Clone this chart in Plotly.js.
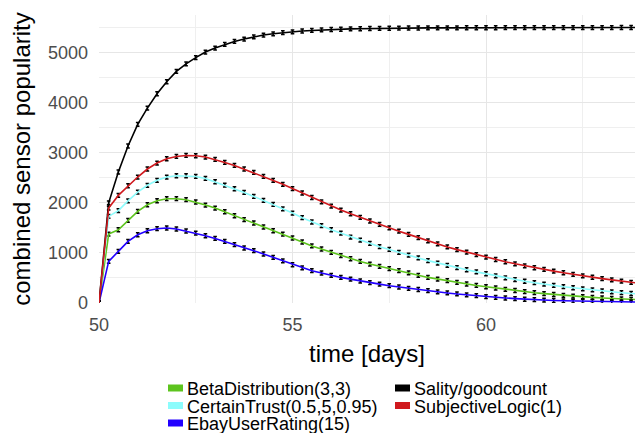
<!DOCTYPE html>
<html>
<head>
<meta charset="utf-8">
<script src="https://cdn.plot.ly/plotly-3.0.1.min.js"></script>
<style>
  html, body { margin: 0; padding: 0; background: #fff; }
  #chart { width: 635px; height: 433px; }
</style>
</head>
<body>
<div id="chart"></div>
<script>
// ---- data ----
const timeDays = [50, 50.25, 50.5, 50.75, 51, 51.25, 51.5, 51.75, 52, 52.25, 52.5, 52.75, 53, 53.25, 53.5, 53.75,
  54, 54.25, 54.5, 54.75, 55, 55.25, 55.5, 55.75, 56, 56.25, 56.5, 56.75, 57, 57.25, 57.5, 57.75,
  58, 58.25, 58.5, 58.75, 59, 59.25, 59.5, 59.75, 60, 60.25, 60.5, 60.75, 61, 61.25, 61.5, 61.75,
  62, 62.25, 62.5, 62.75, 63, 63.25, 63.5, 63.75, 64];

const betaDistribution = [0, 1377, 1463, 1649, 1829, 1962, 2042, 2082, 2082, 2062, 2016, 1956, 1896, 1822, 1742, 1663,
  1597, 1517, 1443, 1377, 1298, 1218, 1140, 1078, 1010, 944, 884, 830, 778, 731, 685, 645,
  600, 553, 511, 477, 445, 411, 379, 351, 325, 299, 272, 250, 227, 206, 187, 170,
  153, 139, 125, 112, 100, 91, 81, 73, 66];

const certainTrust = [0, 1729, 1845, 2040, 2212, 2350, 2450, 2515, 2541, 2541, 2527, 2487, 2421, 2355, 2281, 2208,
  2128, 2048, 1968, 1880, 1796, 1703, 1617, 1543, 1463, 1397, 1317, 1257, 1190, 1124, 1070, 1010,
  955, 900, 846, 798, 752, 708, 664, 622, 584, 542, 502, 466, 434, 405, 375, 350,
  326, 304, 282, 262, 243, 224, 206, 190, 175];

const ebayUserRating = [0, 830, 1030, 1230, 1363, 1443, 1483, 1497, 1477, 1437, 1397, 1343, 1289, 1230, 1164, 1098,
  1044, 978, 912, 840, 764, 700, 645, 599, 551, 511, 476, 439, 405, 377, 345, 319,
  293, 270, 246, 222, 201, 181, 162, 146, 128, 113, 100, 87, 75, 66, 57, 50,
  44, 39, 35, 31, 28, 25, 23, 21, 19];

const salityGoodcount = [0, 2000, 2615, 3134, 3565, 3892, 4178, 4417, 4623, 4776, 4900, 5010, 5090, 5162, 5222, 5269,
  5315, 5349, 5375, 5398, 5415, 5430, 5442, 5452, 5460, 5466, 5472, 5476, 5480, 5483, 5486, 5488,
  5490, 5491, 5492, 5493, 5494, 5494, 5495, 5495, 5496, 5496, 5497, 5497, 5497, 5498, 5498, 5498,
  5498, 5499, 5499, 5499, 5499, 5499, 5500, 5500, 5500];

const subjectiveLogic = [0, 1896, 2148, 2341, 2515, 2675, 2794, 2880, 2926, 2946, 2940, 2914, 2866, 2806, 2747, 2675,
  2607, 2527, 2447, 2370, 2285, 2196, 2106, 2020, 1936, 1856, 1782, 1710, 1637, 1569, 1500, 1435,
  1370, 1305, 1240, 1180, 1120, 1066, 1015, 964, 916, 868, 824, 782, 742, 704, 670, 636,
  604, 572, 542, 514, 487, 461, 436, 413, 391];

const errorHalf = 38;

const seriesNames = ['BetaDistribution(3,3)', 'CertainTrust(0.5,5,0.95)', 'EbayUserRating(15)', 'Sality/goodcount', 'SubjectiveLogic(1)'];
const seriesValues = [betaDistribution, certainTrust, ebayUserRating, salityGoodcount, subjectiveLogic];
const seriesColors = ['#5DC41E', '#8CFCFC', '#2200FF', '#000000', '#D0191E'];

// ---- layout geometry ----
const W = 635, H = 433;
const M = {l: 99, r: 0, t: 15, b: 130};
const plotW = W - M.l - M.r, plotH = H - M.t - M.b;
const px2x = px => (px - M.l) / plotW;
const py2y = py => (H - M.b - py) / plotH;

const FONT = 'Liberation Sans, Arial, Helvetica, sans-serif';

const traces = seriesNames.map((name, i) => ({
  type: 'scatter',
  mode: 'lines',
  name: name,
  x: timeDays,
  y: seriesValues[i],
  line: {color: seriesColors[i], width: 1.6},
  error_y: {type: 'constant', value: errorHalf, color: '#000000', thickness: 1.5, width: 1.8},
  showlegend: false,
  hoverinfo: 'x+y+name'
}));

// manual legend (two columns, ggplot style)
const legendCols = [168, 395];
const legendRows = [388, 405.5, 423];
const legendSlots = [[0, 0], [0, 1], [0, 2], [1, 0], [1, 1]];
const shapes = [];
const annotations = [];
seriesNames.forEach((name, i) => {
  const [c, r] = legendSlots[i];
  const sx = legendCols[c], sy = legendRows[r];
  shapes.push({
    type: 'rect', xref: 'paper', yref: 'paper',
    x0: px2x(sx), x1: px2x(sx + 15), y0: py2y(sy + 3.5), y1: py2y(sy - 3.5),
    fillcolor: seriesColors[i], line: {width: 0}
  });
  annotations.push({
    xref: 'paper', yref: 'paper', x: px2x(sx + 17), y: py2y(sy + 1),
    xanchor: 'left', yanchor: 'middle', showarrow: false,
    text: name, font: {family: FONT, size: 18, color: '#000000'}
  });
});

const layout = {
  width: W, height: H,
  margin: M,
  paper_bgcolor: '#ffffff', plot_bgcolor: '#ffffff',
  font: {family: FONT},
  showlegend: false,
  xaxis: {
    range: [50, 50 + plotW / 38.7],
    tickmode: 'linear', tick0: 50, dtick: 5,
    ticks: '', showline: false, zeroline: false,
    showgrid: true, gridcolor: '#E6E6E6', gridwidth: 1,
    minor: {tickmode: 'linear', tick0: 52.5, dtick: 5, showgrid: true, gridcolor: '#EFEFEF', gridwidth: 1},
    tickfont: {family: FONT, size: 18, color: '#4D4D4D'},
    ticklabelstandoff: 9,
    title: {text: 'time [days]', font: {family: FONT, size: 24, color: '#000000'}, standoff: 11},
    automargin: false
  },
  yaxis: {
    range: [0, 5750],
    tickmode: 'linear', tick0: 0, dtick: 1000,
    ticks: '', showline: false, zeroline: false,
    showgrid: true, gridcolor: '#E6E6E6', gridwidth: 1,
    minor: {tickmode: 'linear', tick0: 500, dtick: 1000, showgrid: true, gridcolor: '#EFEFEF', gridwidth: 1},
    tickfont: {family: FONT, size: 18, color: '#4D4D4D'},
    ticklabelstandoff: 10,
    title: {text: 'combined sensor popularity', font: {family: FONT, size: 24, color: '#000000'}, standoff: 10},
    automargin: false
  },
  shapes: shapes,
  annotations: annotations
};

Plotly.newPlot('chart', traces, layout, {displayModeBar: false, staticPlot: true});
</script>
</body>
</html>
